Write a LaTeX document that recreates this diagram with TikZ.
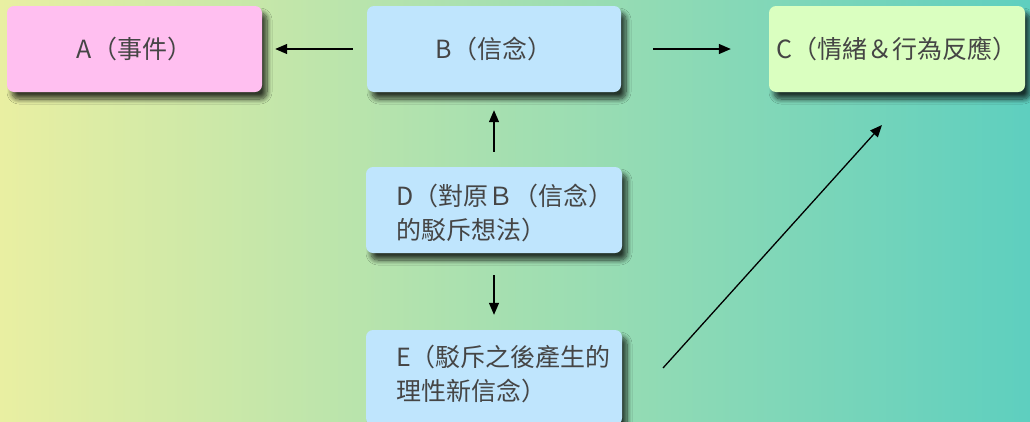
\documentclass[tikz,border=0pt]{standalone}
\usepackage{fontspec}
\newfontfamily\cjk{Noto Sans CJK TC}
\usetikzlibrary{arrows.meta,shadows.blur}
\definecolor{bgL}{HTML}{E9EFA2}
\definecolor{bgM}{HTML}{B2DEBA}
\definecolor{bgR}{HTML}{5ECFBF}
\definecolor{pinkbox}{HTML}{FFBFF0}
\definecolor{bluebox}{HTML}{BFE5FD}
\definecolor{greenbox}{HTML}{DAFFC0}
\definecolor{txt}{HTML}{454545}
\tikzset{
  card/.style={rounded corners=7pt, draw=none, minimum height=86pt, inner sep=0pt,
    font=\cjk\fontsize{25}{34}\selectfont, text=txt,
    blur shadow={shadow xshift=5pt, shadow yshift=-7pt, shadow blur steps=10, shadow opacity=75, shadow blur radius=5pt}},
  lbl/.style={anchor=west, align=left, inner sep=0pt, font=\cjk\fontsize{25}{34}\selectfont, text=txt},
  conn/.style={line width=1.3pt, -{Triangle[length=12pt,width=10pt]}}
}
\begin{document}
\begin{tikzpicture}[x=1pt,y=-1pt]
\useasboundingbox (0,0) rectangle (1030,421);
\shade[left color=bgL, middle color=bgM, right color=bgR] (0,0) rectangle (1030,421);
\node[card, fill=pinkbox, minimum width=255pt] (a) at (134.5,49) {A（事件）};
\node[card, fill=bluebox, minimum width=254pt] (b) at (494,49) {B（信念）};
\node[card, fill=greenbox, minimum width=256pt] (c) at (897,49) {C（情緒＆行為反應）};
\node[card, fill=bluebox, minimum width=256pt] (d) at (494,210) {};
\node[card, fill=bluebox, minimum width=256pt, minimum height=95pt] (e) at (494,377.5) {};
\node[lbl] (dt) at (396,213) {D（對原Ｂ（信念）\\的駁斥想法）};
\node[lbl] (et) at (396,374) {E（駁斥之後產生的\\理性新信念）};
\draw[conn, shorten <=14pt, shorten >=13pt] (b.west) -- (a.east);
\draw[conn, shorten <=32pt, shorten >=38pt] (b.east) -- (c.west);
\draw[conn, shorten <=15pt, shorten >=18pt] (d.north) -- (b.south);
\draw[conn, shorten <=22pt, shorten >=15pt] (d.south) -- (e.north);
\coordinate (e1) at (663,368);
\coordinate (c1) at (882,125);
\draw[conn] (e1) -- (c1);
\end{tikzpicture}
\end{document}
